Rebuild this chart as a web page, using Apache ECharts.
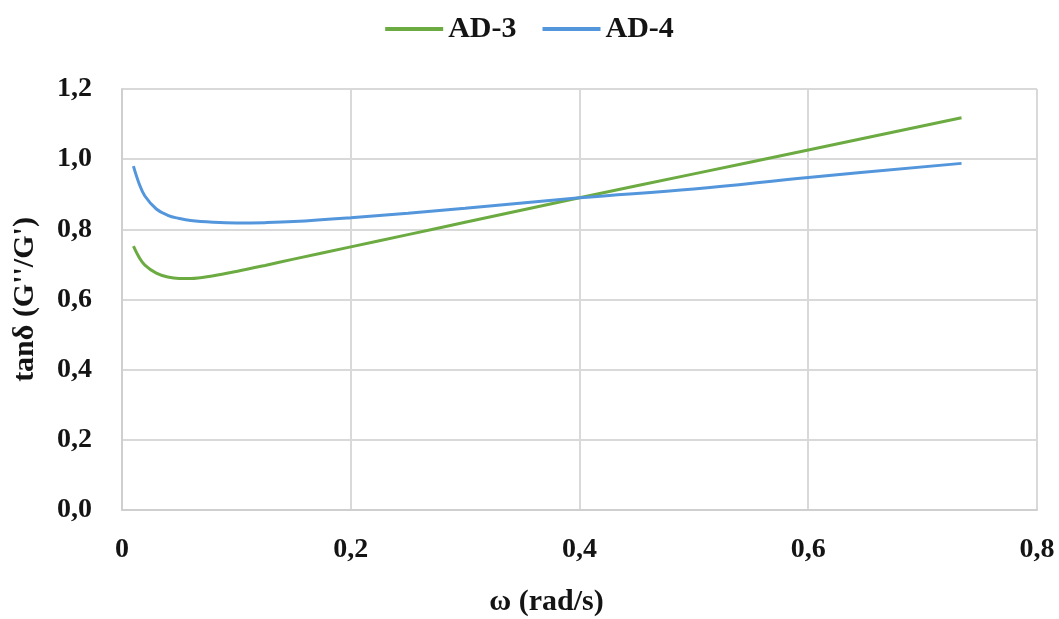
<!DOCTYPE html>
<html><head><meta charset="utf-8">
<script src="https://cdn.jsdelivr.net/npm/echarts@6/dist/echarts.min.js"></script>
<style>html,body{margin:0;padding:0;background:#fff}#c{width:1059px;height:619px}</style>
</head><body><div id="c"></div>
<script>
const omega = [0.01, 0.015, 0.02, 0.03, 0.04, 0.05, 0.06, 0.08, 0.1, 0.125, 0.15, 0.2, 0.25, 0.3, 0.4, 0.5, 0.6, 0.734];
const ad3 = [0.752, 0.72, 0.698, 0.675, 0.664, 0.66, 0.66, 0.668, 0.68, 0.697, 0.715, 0.75, 0.785, 0.82, 0.89, 0.958, 1.026, 1.118];
const ad4 = [0.98, 0.93, 0.895, 0.858, 0.84, 0.831, 0.825, 0.82, 0.818, 0.819, 0.822, 0.833, 0.846, 0.86, 0.89, 0.915, 0.948, 0.988];
const seriesNames = ['AD-3', 'AD-4'];
const xTitle = 'ω (rad/s)';
const yTitle = "tanδ (G''/G')";

const font = 'Liberation Serif';
const chart = echarts.init(document.getElementById('c'));
const pairs = (xs, ys) => xs.map((x, i) => [x, ys[i]]);
chart.setOption({
  animation: false,
  backgroundColor: '#fff',
  textStyle: { fontFamily: font },
  legend: {
    top: 9, left: 'center',
    itemWidth: 58, itemHeight: 4, itemGap: 26,
    icon: 'rect',
    textStyle: { fontFamily: font, fontWeight: 'bold', fontSize: 30, color: '#141414' },
    data: seriesNames
  },
  grid: { left: 122, right: 22, top: 89, bottom: 109, containLabel: false, outerBoundsMode: 'none' },
  xAxis: {
    type: 'value', min: 0, max: 0.8, interval: 0.2,
    name: xTitle, nameLocation: 'middle', nameGap: 77,
    nameTextStyle: { fontFamily: font, fontWeight: 'bold', fontSize: 30, color: '#141414', padding: [0, 66, 0, 0] },
    axisLine: { lineStyle: { color: '#cfcfcf', width: 2 } },
    axisTick: { show: false },
    axisLabel: { fontFamily: font, fontWeight: 'bold', fontSize: 28, color: '#141414', margin: 26,
      formatter: v => v === 0 ? '0' : v.toFixed(1).replace('.', ',') },
    splitLine: { show: true, lineStyle: { color: '#d9d9d9', width: 2 } }
  },
  yAxis: {
    type: 'value', min: 0, max: 1.2, interval: 0.2,
    name: yTitle, nameLocation: 'middle', nameGap: 82,
    nameTextStyle: { fontFamily: font, fontWeight: 'bold', fontSize: 30, color: '#141414' },
    axisLine: { show: true, lineStyle: { color: '#cfcfcf', width: 2 } },
    axisTick: { show: false },
    axisLabel: { fontFamily: font, fontWeight: 'bold', fontSize: 28, color: '#141414', margin: 30,
      formatter: v => v.toFixed(1).replace('.', ',') },
    splitLine: { show: true, lineStyle: { color: '#d9d9d9', width: 2 } }
  },
  series: [
    { name: seriesNames[0], type: 'line', smooth: 0.4, showSymbol: false, symbol: 'none',
      data: pairs(omega, ad3), lineStyle: { color: '#6cab42', width: 3 }, itemStyle: { color: '#6cab42' } },
    { name: seriesNames[1], type: 'line', smooth: 0.4, showSymbol: false, symbol: 'none',
      data: pairs(omega, ad4), lineStyle: { color: '#5496dc', width: 3 }, itemStyle: { color: '#5496dc' } }
  ]
});
</script></body></html>
